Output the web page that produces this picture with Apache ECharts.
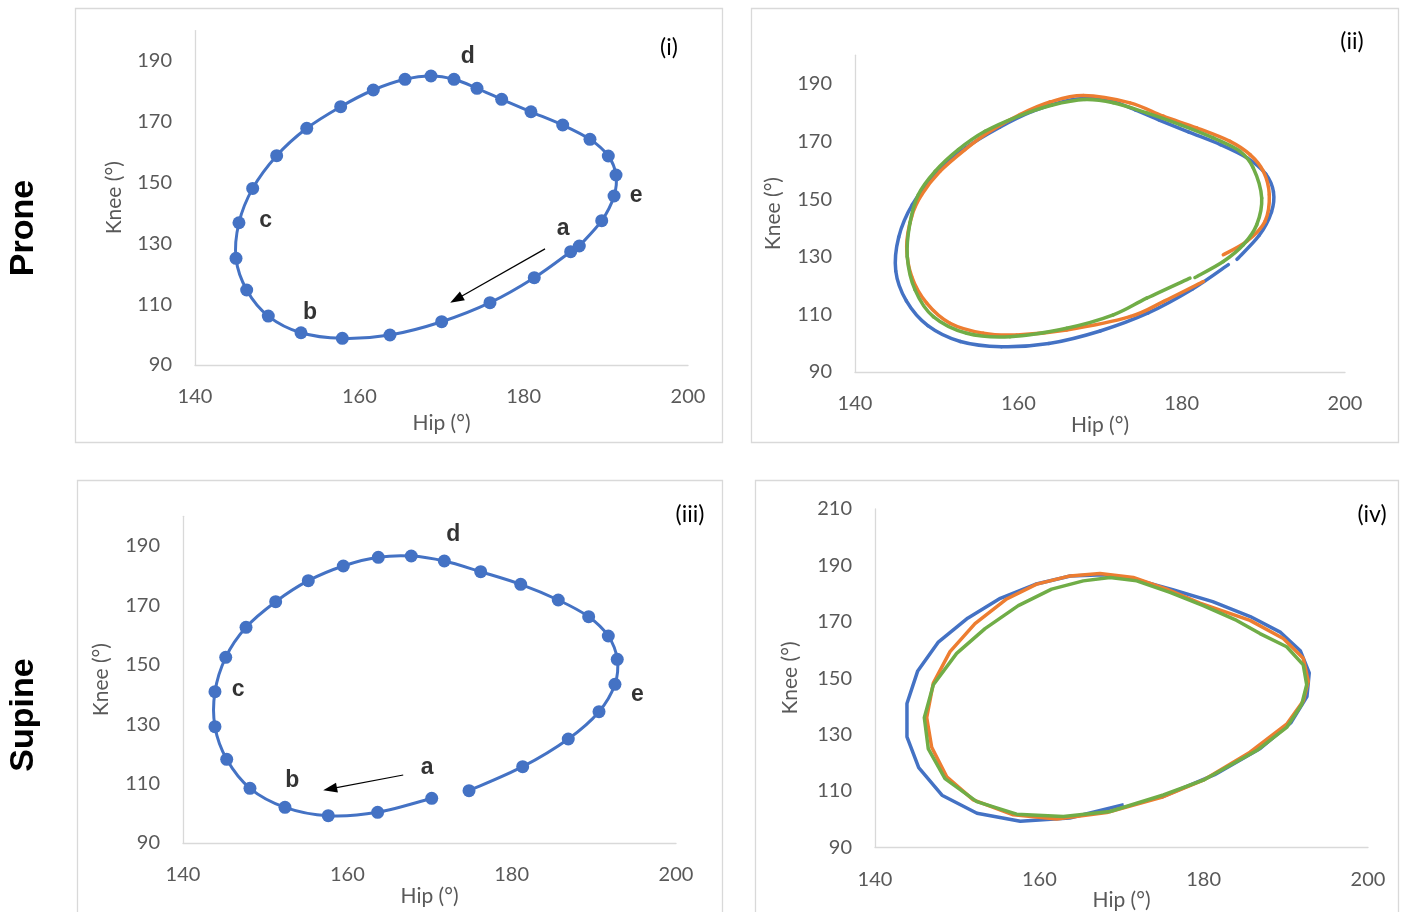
<!DOCTYPE html>
<html>
<head>
<meta charset="utf-8">
<script src="https://cdn.jsdelivr.net/npm/echarts@6/dist/echarts.min.js"></script>
<style>
html,body{margin:0;padding:0;background:#fff;}
#chart{width:1407px;height:912px;}
</style>
</head>
<body>
<div id="chart"></div>
<script>
// ---------- DATA ----------
// axis ticks
const hipTicks = [140, 160, 180, 200];
const kneeTicks = [90, 110, 130, 150, 170, 190];
const kneeTicksIv = [90, 110, 130, 150, 170, 190, 210];
const kneeMax = 200;

// (i) prone trial 1 (also blue in ii)
const proneHip = [185.72, 181.29, 175.90, 170.02, 163.73, 157.93, 152.90, 148.92, 146.29, 144.99, 145.35, 147.02, 149.94, 153.60, 157.73, 161.70, 165.56, 168.72, 171.52, 174.32, 177.32, 180.89, 184.75, 188.07, 190.30, 191.24, 191.00, 189.50, 186.77];
const proneKnee = [127.27, 118.72, 110.50, 104.24, 99.87, 98.78, 100.60, 106.10, 114.67, 125.10, 136.80, 148.10, 158.85, 167.86, 174.97, 180.46, 183.98, 185.07, 183.98, 181.02, 177.40, 173.30, 168.95, 164.24, 158.75, 152.50, 145.60, 137.47, 129.14];

// (ii) prone trial 2 (orange)
const prone2Hip = [182.65, 177.75, 173.67, 165.92, 159.80, 155.71, 151.63, 148.78, 146.94, 146.33, 146.94, 148.17, 150.41, 153.47, 156.53, 160.20, 163.88, 167.95, 173.67, 177.75, 181.84, 185.92, 188.37, 190.00, 190.73, 190.20, 187.96, 185.10];
const prone2Knee = [121.41, 114.45, 109.23, 104.61, 102.87, 103.46, 106.94, 113.90, 123.15, 133.58, 144.02, 151.57, 159.67, 167.22, 173.58, 179.39, 183.74, 186.00, 183.46, 178.80, 174.77, 170.10, 165.48, 159.67, 151.57, 142.28, 135.32, 130.70];

// (ii) prone trial 3 (green)
const prone3Hip = [181.02, 175.72, 171.63, 165.92, 158.98, 153.68, 149.59, 147.35, 146.40, 146.73, 147.75, 149.80, 152.65, 155.92, 159.99, 164.08, 168.16, 171.63, 175.72, 179.79, 183.87, 187.14, 188.77, 189.80, 189.19, 187.55, 185.10, 181.63];
const prone3Knee = [122.59, 115.63, 109.83, 105.20, 102.28, 103.46, 109.23, 118.52, 130.10, 141.72, 151.57, 159.67, 167.22, 173.58, 178.80, 182.63, 184.61, 183.46, 179.97, 175.91, 171.29, 166.63, 160.85, 150.42, 141.13, 134.17, 128.37, 122.80];

// (iii) supine trial 1 (also blue in iv)
const supineHip = [170.27, 163.69, 157.68, 152.41, 148.15, 145.32, 143.89, 143.89, 145.20, 147.67, 151.28, 155.25, 159.51, 163.77, 167.78, 171.80, 176.23, 181.10, 185.67, 189.37, 191.76, 192.85, 192.57, 190.63, 186.89, 181.34, 174.81];
const supineKnee = [105.05, 100.34, 99.19, 102.02, 108.42, 118.18, 129.16, 140.94, 152.53, 162.63, 171.25, 178.32, 183.27, 186.20, 186.63, 184.95, 181.35, 177.10, 171.82, 166.20, 159.70, 151.85, 143.43, 134.21, 125.02, 115.69, 107.61];

// (iv) supine trial 2 (orange)
const supine2Hip = [175.09, 168.20, 162.11, 156.83, 151.96, 148.73, 146.90, 146.29, 147.10, 149.13, 152.17, 156.03, 159.68, 163.73, 167.38, 171.43, 175.50, 179.55, 185.64, 189.69, 192.12, 192.73, 192.12, 190.10, 185.64, 179.95, 175.09];
const supine2Knee = [107.89, 102.28, 99.93, 101.47, 106.74, 114.91, 125.44, 135.96, 148.25, 159.37, 169.30, 178.07, 183.33, 186.25, 187.09, 185.68, 181.58, 176.56, 170.46, 164.04, 157.02, 148.84, 141.82, 133.61, 123.68, 113.75, 107.89];

// (iv) supine trial 3 (green)
const supine3Hip = [175.09, 168.60, 162.92, 157.24, 152.38, 148.52, 146.49, 146.00, 147.10, 149.94, 153.39, 157.44, 161.50, 165.35, 168.60, 171.85, 175.90, 179.95, 184.02, 186.85, 190.10, 192.12, 192.54, 191.93, 190.10, 186.45, 179.95, 175.09];
const supine3Knee = [108.49, 102.63, 100.88, 101.68, 106.14, 114.32, 124.84, 135.96, 147.65, 158.77, 167.54, 175.72, 181.58, 184.49, 185.68, 184.49, 180.42, 175.72, 170.46, 165.79, 161.12, 154.67, 147.65, 140.63, 132.46, 124.28, 113.75, 108.49];

// phase annotations (letters at data coordinates)
const proneLetters = [[184.8, 134.7, 'a'], [154.0, 107.1, 'b'], [148.6, 137.4, 'c'], [173.2, 191.3, 'd'], [193.7, 145.6, 'e']];
const supineLetters = [[169.7, 115.3, 'a'], [153.3, 110.9, 'b'], [146.7, 141.5, 'c'], [172.9, 193.7, 'd'], [195.3, 139.8, 'e']];
const proneArrow = [[182.6, 128.2], [171.8, 111.6]];
const supineArrow = [[166.8, 112.9], [157.9, 108.2]];

const panelTitles = ['(i)', '(ii)', '(iii)', '(iv)'];
const rowTitles = ['Prone', 'Supine'];

// ---------- CHART ----------
const BLUE = '#4472C4', ORANGE = '#ED7D31', GREEN = '#70AD47';
const GRAY = '#595959', AXIS = '#D9D9D9';
const FONT = 'Lato';

function zip(a, b) { return a.map((v, i) => [v, b[i]]); }

const grids = [
  { left: 195, top: 30.6, width: 493, height: 334.4 },
  { left: 855, top: 55.2, width: 490, height: 316.8 },
  { left: 183, top: 516.3, width: 493, height: 326.7 },
  { left: 875, top: 509, width: 493, height: 342 }
];
const hipNameGap = [48, 42, 43, 32];
const kneeNameGap = [70, 71, 71, 74];

const xAxes = grids.map((g, i) => ({
  gridIndex: i, type: 'value',
  min: hipTicks[0], max: hipTicks[hipTicks.length - 1], interval: hipTicks[1] - hipTicks[0],
  axisLine: { show: true, onZero: false, lineStyle: { color: AXIS, width: 1.3 } },
  axisTick: { show: false }, splitLine: { show: false },
  axisLabel: { color: GRAY, fontSize: 20, fontFamily: FONT, margin: 22 },
  name: 'Hip (°)', nameLocation: 'middle', nameGap: hipNameGap[i],
  nameTextStyle: { color: GRAY, fontSize: 21, fontFamily: FONT }
}));
const yAxes = grids.map((g, i) => {
  const t = i === 3 ? kneeTicksIv : kneeTicks;
  return {
    gridIndex: i, type: 'value',
    min: t[0], max: i === 3 ? t[t.length - 1] : kneeMax, interval: t[1] - t[0],
    axisLine: { show: true, onZero: false, lineStyle: { color: AXIS, width: 1.3 } },
    axisTick: { show: false }, splitLine: { show: false },
    axisLabel: { color: GRAY, fontSize: 20, fontFamily: FONT, margin: 23, showMaxLabel: i === 3 },
    name: 'Knee (°)', nameLocation: 'middle', nameGap: kneeNameGap[i],
    nameTextStyle: { color: GRAY, fontSize: 21, fontFamily: FONT }
  };
});

// Excel-like smoothed line (Catmull-Rom Bezier segments), positioned via the axes
function smoothSeries(idx, hip, knee, color, width) {
  const n = hip.length;
  return {
    type: 'custom', xAxisIndex: idx, yAxisIndex: idx, silent: true, animation: false, z: 3,
    data: zip(hip, knee),
    encode: { x: 0, y: 1 },
    renderItem: function (params, api) {
      const i = params.dataIndex;
      if (i >= n - 1) return null;
      const P = j => api.coord([hip[Math.max(0, Math.min(n - 1, j))], knee[Math.max(0, Math.min(n - 1, j))]]);
      const p0 = P(i - 1), p1 = P(i), p2 = P(i + 1), p3 = P(i + 2);
      return {
        type: 'bezierCurve',
        shape: {
          x1: p1[0], y1: p1[1], x2: p2[0], y2: p2[1],
          cpx1: p1[0] + (p2[0] - p0[0]) / 6, cpy1: p1[1] + (p2[1] - p0[1]) / 6,
          cpx2: p2[0] - (p3[0] - p1[0]) / 6, cpy2: p2[1] - (p3[1] - p1[1]) / 6
        },
        style: { stroke: color, lineWidth: width, fill: null, lineCap: 'round' }
      };
    }
  };
}

function straightSeries(idx, hip, knee, color) {
  return {
    type: 'line', xAxisIndex: idx, yAxisIndex: idx,
    data: zip(hip, knee), showSymbol: false, symbol: 'none',
    lineStyle: { color: color, width: 3.5 }, itemStyle: { color: color },
    smooth: false, silent: true, animation: false, z: 3
  };
}

function markerSeries(idx, hip, knee) {
  return {
    type: 'scatter', xAxisIndex: idx, yAxisIndex: idx, silent: true, animation: false, z: 4,
    data: zip(hip, knee), symbol: 'circle', symbolSize: 13, itemStyle: { color: BLUE, opacity: 1 }
  };
}

function letterSeries(idx, letters, arrow) {
  return {
    type: 'scatter', xAxisIndex: idx, yAxisIndex: idx, silent: true, animation: false,
    data: letters, symbolSize: 0, z: 5,
    label: { show: true, position: 'inside', formatter: p => p.value[2], color: '#000',
      fontFamily: 'Liberation Sans', fontWeight: 'bold', fontSize: 23 },
    markLine: {
      silent: true, animation: false, symbol: ['none', 'triangle'], symbolSize: [10, 14],
      lineStyle: { color: '#000', width: 1.2, type: 'solid' }, label: { show: false },
      data: [[{ coord: arrow[0] }, { coord: arrow[1] }]]
    }
  };
}

const series = [
  smoothSeries(0, proneHip, proneKnee, BLUE, 3),
  markerSeries(0, proneHip, proneKnee),
  letterSeries(0, proneLetters, proneArrow),
  smoothSeries(1, proneHip, proneKnee, BLUE, 3.5),
  smoothSeries(1, prone2Hip, prone2Knee, ORANGE, 3.5),
  smoothSeries(1, prone3Hip, prone3Knee, GREEN, 3.5),
  smoothSeries(2, supineHip, supineKnee, BLUE, 3),
  markerSeries(2, supineHip, supineKnee),
  letterSeries(2, supineLetters, supineArrow),
  straightSeries(3, supineHip, supineKnee, BLUE),
  straightSeries(3, supine2Hip, supine2Knee, ORANGE),
  straightSeries(3, supine3Hip, supine3Knee, GREEN)
];

const frames = [[75, 8, 647, 434], [751, 8, 647, 434], [77, 480, 645, 460], [755, 480, 643, 460]];
const titlePos = [[669, 48], [1352, 42], [690, 515], [1372, 515]];
const rowPos = [[24, 228], [24, 715]];

const graphic = [];
frames.forEach(f => graphic.push({ type: 'rect', silent: true, z: 0,
  shape: { x: f[0] + 0.5, y: f[1] + 0.5, width: f[2], height: f[3] },
  style: { fill: 'none', stroke: '#D9D9D9', lineWidth: 1.3 } }));
panelTitles.forEach((t, i) => graphic.push({ type: 'text', silent: true, z: 10,
  x: titlePos[i][0], y: titlePos[i][1],
  style: { text: t, font: '23px ' + FONT, fill: '#000', textAlign: 'center', textVerticalAlign: 'middle' } }));
rowTitles.forEach((t, i) => graphic.push({ type: 'text', silent: true, z: 10,
  x: rowPos[i][0], y: rowPos[i][1], rotation: Math.PI / 2,
  style: { text: t, font: 'bold 34px "Liberation Sans"', fill: '#000', textAlign: 'center', textVerticalAlign: 'middle' } }));

const chart = echarts.init(document.getElementById('chart'), null, { renderer: 'canvas' });
chart.setOption({
  animation: false,
  backgroundColor: '#fff',
  grid: grids.map(g => Object.assign({ containLabel: false }, g)),
  xAxis: xAxes, yAxis: yAxes,
  series: series,
  graphic: graphic
});
</script>
</body>
</html>
